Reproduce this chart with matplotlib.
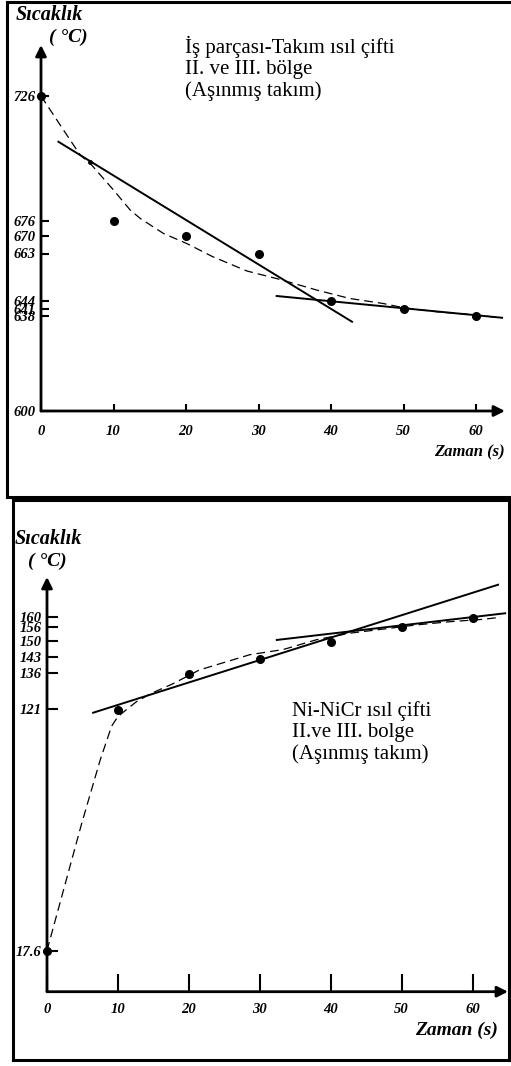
import matplotlib
matplotlib.use("Agg")
import matplotlib.pyplot as plt
from matplotlib.lines import Line2D

W, H = 511, 1066
SERIF = "Liberation Serif"

# ---------------- data: top panel (İş parçası-Takım) ----------------
top_x_points = [0, 10, 20, 30, 40, 50, 60]
top_y_points = [726, 676, 670, 663, 644, 641, 638]
top_small_dot = (6.8, 699.5)
top_curve_x = [0, 3.1, 5.4, 6.8, 10.0, 12.3, 13.7, 16.9, 20.1, 23.7, 28.4, 33.0, 38.0, 42.6, 47.2, 50.0, 54.6, 60.1, 63.3]
top_curve_y = [726, 712.4, 702.4, 699.0, 688.4, 680.4, 677.0, 671.0, 667.0, 661.7, 656.0, 652.6, 648.4, 645.0, 643.0, 641.3, 639.7, 638.4, 637.3]
top_fit1_x = [2.4, 42.9]
top_fit1_y = [707.7, 635.7]
top_fit2_x = [32.5, 63.6]
top_fit2_y = [646.0, 637.3]
top_yticks = [600, 638, 641, 644, 663, 670, 676, 726]
top_ytick_labels = ["600", "638", "641", "644", "663", "670", "676", "726"]

# ---------------- data: bottom panel (Ni-NiCr) ----------------
bot_x_points = [0, 10, 20, 30, 40, 50, 60]
bot_y_points = [17.6, 120.5, 135.8, 142.3, 149.6, 155.7, 159.6]
bot_curve_x = [0, 4.9, 7.5, 9.1, 10.0, 12.6, 14.7, 17.7, 21.5, 28.6, 33.3, 38.0, 42.7, 47.3, 52.0, 56.8, 61.4, 64.0]
bot_curve_y = [17.6, 72.0, 99.0, 113.4, 117.6, 123.9, 127.5, 131.5, 137.5, 144.0, 146.2, 150.4, 153.2, 154.9, 156.7, 158.1, 159.1, 160.0]
bot_fit1_x = [6.5, 63.6]
bot_fit1_y = [119.2, 173.9]
bot_fit2_x = [32.4, 64.6]
bot_fit2_y = [150.3, 161.7]
bot_yticks = [17.6, 121, 136, 143, 150, 156, 160]
bot_ytick_labels = ["17.6", "121", "136", "143", "150", "156", "160"]

xticks = [0, 10, 20, 30, 40, 50, 60]
xtick_labels = ["0", "10", "20", "30", "40", "50", "60"]


def fx(px):
    return px / W


def fy(py):
    return 1 - py / H


fig = plt.figure(figsize=(W / 100, H / 100), dpi=100)


def frame_line(xs, ys, lw=2.2):
    fig.add_artist(Line2D([fx(v) for v in xs], [fy(v) for v in ys], color="black",
                          lw=lw, transform=fig.transFigure, solid_capstyle="projecting"))


frame_line([7, 515], [2, 2])
frame_line([7, 7], [2, 497])
frame_line([7, 515], [497, 497])

frame_line([13, 509], [500, 500])
frame_line([13, 13], [500, 1060])
frame_line([13, 509], [1060, 1060])
frame_line([509, 509], [500, 1060])


def make_axes(left, right, top, bottom):
    return fig.add_axes([fx(left), fy(bottom), fx(right) - fx(left), fy(top) - fy(bottom)])


def style_axes(ax, xlim, ylim, yticks, ylabels, xtick_len, ytick_len, xpad, ypad, tsize):
    ax.set_xlim(*xlim)
    ax.set_ylim(*ylim)
    for s in ax.spines.values():
        s.set_visible(False)
    ax.patch.set_alpha(0)
    ax.annotate("", xy=(xlim[1], ylim[0]), xytext=(xlim[0], ylim[0]),
                arrowprops=dict(arrowstyle="-|>", lw=2.0, color="black",
                                mutation_scale=16, shrinkA=0, shrinkB=0),
                annotation_clip=False)
    ax.annotate("", xy=(xlim[0], ylim[1]), xytext=(xlim[0], ylim[0]),
                arrowprops=dict(arrowstyle="-|>", lw=2.0, color="black",
                                mutation_scale=16, shrinkA=0, shrinkB=0),
                annotation_clip=False)
    ax.set_xticks(xticks)
    ax.set_xticklabels(xtick_labels)
    ax.set_yticks(yticks)
    ax.set_yticklabels(ylabels)
    ax.tick_params(axis="x", direction="in", length=xtick_len, width=1.5, pad=xpad)
    ax.tick_params(axis="y", direction="in", length=ytick_len, width=1.5, pad=ypad)
    for lab in ax.get_xticklabels() + ax.get_yticklabels():
        lab.set_fontfamily(SERIF)
        lab.set_fontweight("bold")
        lab.set_fontstyle("italic")
        lab.set_fontsize(tsize)


# ---------------- top panel ----------------
ax1 = make_axes(41, 505, 45, 411)
style_axes(ax1, (0, 64), (600, 746.4), top_yticks, top_ytick_labels, 5, 6, 10, 4, 10.5)
ax1.plot(top_curve_x, top_curve_y, color="black", lw=0.9, dashes=(7, 4))
ax1.plot(top_fit1_x, top_fit1_y, color="black", lw=1.4)
ax1.plot(top_fit2_x, top_fit2_y, color="black", lw=1.4)
ax1.plot(top_x_points, top_y_points, "o", color="black", ms=5.5, clip_on=False)
ax1.plot([top_small_dot[0]], [top_small_dot[1]], "o", color="black", ms=2.5)

fig.text(fx(49), fy(15), "Sıcaklık", family=SERIF, weight="bold", style="italic",
         fontsize=14.5, ha="center", va="center")
fig.text(fx(68), fy(37), "( °C)", family=SERIF, weight="bold", style="italic",
         fontsize=14, ha="center", va="center")
fig.text(fx(505), fy(452), "Zaman (s)", family=SERIF, weight="bold", style="italic",
         fontsize=12, ha="right", va="center")
fig.text(fx(185), fy(36), "İş parçası-Takım ısıl çifti\nII. ve III. bölge\n(Aşınmış takım)",
         family=SERIF, fontsize=15, ha="left", va="top", linespacing=1.15)

# ---------------- bottom panel ----------------
ax2 = make_axes(47, 508, 577, 991.7)
style_axes(ax2, (0, 65), (0, 177.2), bot_yticks, bot_ytick_labels, 13, 8, 8, 4, 10.5)
ax2.plot(bot_curve_x, bot_curve_y, color="black", lw=0.9, dashes=(7, 4))
ax2.plot(bot_fit1_x, bot_fit1_y, color="black", lw=1.4)
ax2.plot(bot_fit2_x, bot_fit2_y, color="black", lw=1.4)
ax2.plot(bot_x_points, bot_y_points, "o", color="black", ms=5.5, clip_on=False)

fig.text(fx(48), fy(539), "Sıcaklık", family=SERIF, weight="bold", style="italic",
         fontsize=14.5, ha="center", va="center")
fig.text(fx(47), fy(561), "( °C)", family=SERIF, weight="bold", style="italic",
         fontsize=14, ha="center", va="center")
fig.text(fx(498), fy(1030), "Zaman (s)", family=SERIF, weight="bold", style="italic",
         fontsize=14, ha="right", va="center")
fig.text(fx(292), fy(701), "Ni-NiCr ısıl çifti\nII.ve III. bolge\n(Aşınmış takım)",
         family=SERIF, fontsize=15, ha="left", va="top", linespacing=1.15)

fig.savefig("out.png", dpi=100)
